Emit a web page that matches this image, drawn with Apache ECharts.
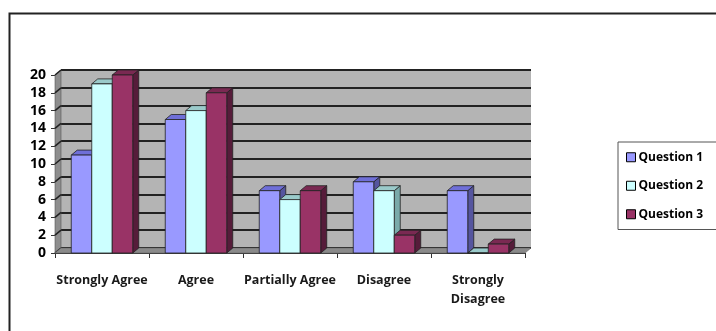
<!DOCTYPE html>
<html><head><meta charset="utf-8">
<script src="https://cdn.jsdelivr.net/npm/echarts@6/dist/echarts.min.js"></script>
<style>html,body{margin:0;padding:0;background:#fff}#c{width:716px;height:331px}</style>
</head><body><div id="c"></div>
<script>
const categories = ['Strongly Agree', 'Agree', 'Partially Agree', 'Disagree', 'Strongly\nDisagree'];
const seriesNames = ['Question 1', 'Question 2', 'Question 3'];
const q1 = [11, 15, 7, 8, 7];
const q2 = [19, 16, 6, 7, 0];
const q3 = [20, 18, 7, 2, 1];
const yTicks = [0, 2, 4, 6, 8, 10, 12, 14, 16, 18, 20];

const DX = 6, DY = -5, BAR_RATIO = 0.218;
const palette = [
  {front: '#9999FF', top: '#6F6FD8', side: '#55559F'},
  {front: '#CCFFFF', top: '#9ACACA', side: '#7AAAAA'},
  {front: '#993366', top: '#7A2952', side: '#561C3A'}
];
const FONT = 'Open Sans';

function barRenderer(idx, c) {
  return function (params, api) {
    const cat = api.value(0), v = api.value(1);
    const top = api.coord([cat, v]);
    const base = api.coord([cat, 0]);
    const bw = api.size([1, 0])[0] * BAR_RATIO;
    const x0 = top[0] + (idx - 1.5) * bw, x1 = x0 + bw;
    const yt = top[1], yb = base[1];
    const st = {stroke: '#222', lineWidth: 0.8};
    return {type: 'group', children: [
      {type: 'polygon', shape: {points: [[x1, yb], [x1 + DX, yb + DY], [x1 + DX, yt + DY], [x1, yt]]}, style: Object.assign({fill: c.side}, st)},
      {type: 'polygon', shape: {points: [[x0, yt], [x0 + DX, yt + DY], [x1 + DX, yt + DY], [x1, yt]]}, style: Object.assign({fill: c.top}, st)},
      {type: 'rect', shape: {x: x0, y: yt, width: bw, height: yb - yt}, style: Object.assign({fill: c.front}, st)}
    ]};
  };
}

function wallRenderer(params, api) {
  const cs = params.coordSys;
  const xl = cs.x, xr = cs.x + cs.width, yTop = cs.y, yb = cs.y + cs.height;
  const children = [
    {type: 'polygon', shape: {points: [[xl, yb], [xl + DX, yb + DY], [xl + DX, yTop + DY], [xl, yTop]]}, style: {fill: '#8E8E8E', stroke: '#555', lineWidth: 0.6}}
  ];
  yTicks.forEach(function (t) {
    const y = api.coord([0, t])[1];
    children.push({type: 'line', shape: {x1: xl, y1: y, x2: xl + DX, y2: y + DY}, style: {stroke: '#222', lineWidth: 1.5}});
  });
  children.push({type: 'polygon', shape: {points: [[xl, yb], [xl + DX, yb + DY], [xr + DX, yb + DY], [xr, yb]]}, style: {fill: '#8A8A8A', stroke: '#666', lineWidth: 0.6}});
  return {type: 'group', children: children};
}

const datasets = [q1, q2, q3];
const series = [{
  type: 'custom', name: 'walls', xAxisIndex: 0, yAxisIndex: 0, z: 1, silent: true,
  renderItem: wallRenderer, data: [[0, 0]], encode: {x: 0, y: 1}
}];
datasets.forEach(function (arr, i) {
  series.push({
    type: 'custom', name: seriesNames[i], xAxisIndex: 0, yAxisIndex: 0, z: 3 + i,
    renderItem: barRenderer(i, palette[i]),
    itemStyle: {color: palette[i].front},
    encode: {x: 0, y: 1},
    data: arr.map(function (v, k) { return [k, v]; })
  });
});

const chart = echarts.init(document.getElementById('c'), null, {renderer: 'canvas'});
chart.setOption({
  animation: false,
  backgroundColor: '#fff',
  textStyle: {fontFamily: FONT},
  grid: [
    {left: 55, top: 75, width: 470, height: 178, containLabel: false},
    {left: 61, top: 70, width: 470, height: 178, show: true, backgroundColor: '#B4B4B4', borderWidth: 0}
  ],
  xAxis: [
    {type: 'category', gridIndex: 0, data: categories, boundaryGap: true,
     axisLine: {show: true, lineStyle: {color: '#333', width: 1}},
     axisTick: {show: true, interval: 0, length: 5, lineStyle: {color: '#333'}},
     axisLabel: {interval: 0, margin: 18, fontSize: 12.5, fontWeight: 'bold', color: '#1a1a1a', lineHeight: 19, fontFamily: FONT}},
    {type: 'category', gridIndex: 1, data: categories, show: false}
  ],
  yAxis: [
    {type: 'value', gridIndex: 0, min: 0, max: 20, interval: 2,
     axisLine: {show: true, lineStyle: {color: '#333', width: 1}},
     axisTick: {show: true, length: 4, lineStyle: {color: '#333'}},
     axisLabel: {margin: 9, fontSize: 14, fontWeight: 'bold', color: '#000', fontFamily: FONT},
     splitLine: {show: false}},
    {type: 'value', gridIndex: 1, min: 0, max: 20, interval: 2,
     axisLine: {show: false}, axisTick: {show: false}, axisLabel: {show: false},
     splitLine: {show: true, lineStyle: {color: '#222', width: 2}}}
  ],
  legend: {
    orient: 'vertical', left: 618, top: 142,
    data: seriesNames,
    icon: 'rect', itemWidth: 9, itemHeight: 9, itemGap: 12,
    padding: [7, 30, 7, 8],
    borderColor: '#555', borderWidth: 1,
    itemStyle: {borderColor: '#000', borderWidth: 1},
    textStyle: {fontSize: 12, color: '#000', fontFamily: FONT, fontWeight: 'bold', lineHeight: 16.5, padding: [0, 0, 0, -2]}
  },
  graphic: [
    {type: 'rect', left: 7, top: 11, shape: {x: 0, y: 0, width: 760, height: 400},
     style: {fill: 'none', stroke: '#222', lineWidth: 2}, silent: true, z: 100}
  ],
  series: series
});
</script>
</body></html>
